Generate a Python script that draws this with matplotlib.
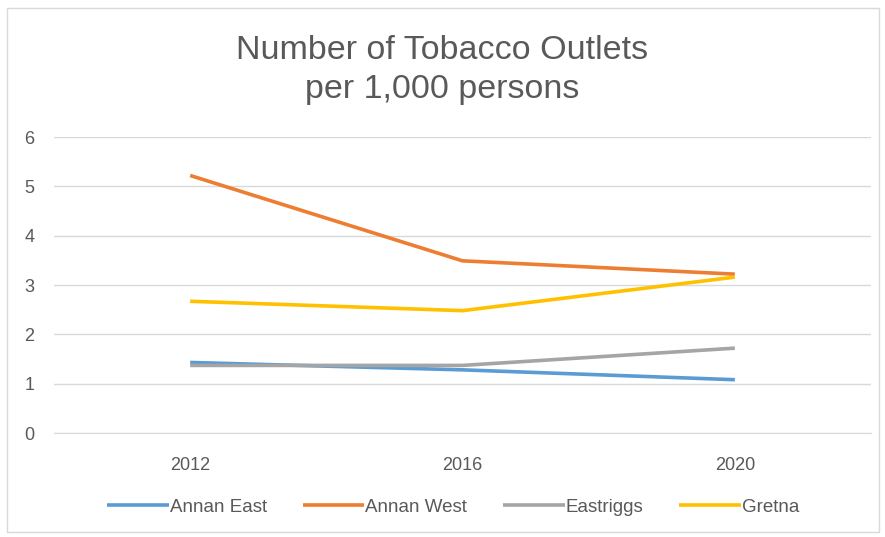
import matplotlib.pyplot as plt

plt.rcParams['font.family'] = ['Liberation Sans', 'DejaVu Sans']

years = ['2012', '2016', '2020']
annan_east = [1.43, 1.28, 1.08]
annan_west = [5.22, 3.49, 3.22]
eastriggs = [1.37, 1.37, 1.72]
gretna = [2.67, 2.48, 3.16]

series = [
    ('Annan East', annan_east, '#5B9BD5'),
    ('Annan West', annan_west, '#ED7D31'),
    ('Eastriggs', eastriggs, '#A5A5A5'),
    ('Gretna', gretna, '#FFC000'),
]

fig = plt.figure(figsize=(8.85, 5.37), dpi=100)
ax = fig.add_axes([54 / 885, 1 - 433 / 537, (871 - 54) / 885, (433 - 137) / 537])

x = list(range(len(years)))
for name, vals, col in series:
    ax.plot(x, vals, color=col, lw=2.6, label=name, solid_capstyle='butt')

ax.set_xlim(-0.5, 2.5)
ax.set_ylim(0, 6)
ax.set_xticks(x)
ax.set_xticklabels(years)
ax.set_yticks(range(0, 7))
ax.grid(axis='y', color='#D9D9D9', lw=1)
ax.set_axisbelow(True)
for s in ['top', 'right', 'left']:
    ax.spines[s].set_visible(False)
ax.spines['bottom'].set_color('#D9D9D9')
ax.tick_params(length=0, labelsize=13, labelcolor='#595959')
ax.tick_params(axis='x', pad=17)
ax.tick_params(axis='y', pad=14)

fig.text(0.5, 1 - 70 / 537, 'Number of Tobacco Outlets\nper 1,000 persons', ha='center', va='center',
         fontsize=24.5, color='#595959', linespacing=1.35)

fig.legend(loc='center', bbox_to_anchor=(0.512, 1 - 507 / 537), ncol=4, frameon=False,
           fontsize=13.5, labelcolor='#595959', handlelength=3.3, handletextpad=0.05,
           columnspacing=1.9)

# light border around the chart area
border = plt.Rectangle((0.008, 0.01), 0.985, 0.975, transform=fig.transFigure, fill=False,
                       edgecolor='#D9D9D9', lw=1)
fig.patches.append(border)

fig.savefig('out.png', dpi=100)
